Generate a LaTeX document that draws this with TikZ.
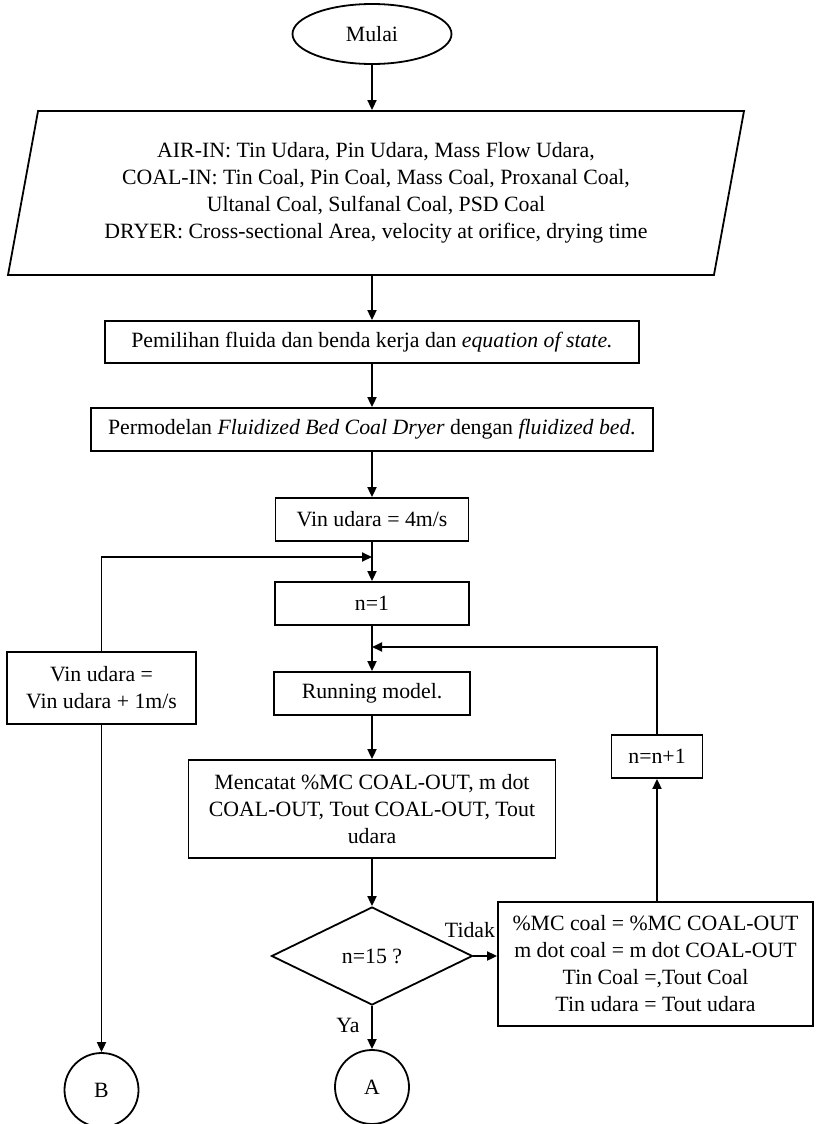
\documentclass[tikz,border=0pt]{standalone}
\usepackage{fontspec}
\setmainfont{Liberation Serif}
\usetikzlibrary{shapes.geometric,arrows.meta}

\begin{document}
\begin{tikzpicture}[x=0.5pt,y=-0.5pt,line width=0.9pt,font=\fontsize{10.9}{13.5}\selectfont,
	proc/.style={draw,rectangle,inner sep=0pt,align=center},
	io/.style={draw,trapezium,trapezium left angle=73.4,trapezium right angle=106.6,trapezium stretches body=true,inner sep=0pt,align=center},
	term/.style={draw,ellipse,inner sep=0pt},
	decision/.style={draw,diamond,aspect=2,inner sep=0pt},
	conn/.style={draw,circle,inner sep=0pt,minimum size=37pt},
	arr/.style={-{Triangle[length=5pt,width=4.5pt]}}]
	\useasboundingbox (0,0) rectangle (816,1124);
	\node[term,minimum width=79.5pt,minimum height=30pt] (start) at (372,34) {Mulai};
	\node[io,minimum width=368pt,minimum height=82pt] (input) at (376,193) {AIR-IN: Tin Udara, Pin Udara, Mass Flow Udara,\\COAL-IN: Tin Coal, Pin Coal, Mass Coal, Proxanal Coal,\\Ultanal Coal, Sulfanal Coal, PSD Coal\\DRYER: Cross-sectional Area, velocity at orifice, drying time};
	\node[proc,minimum width=267pt,minimum height=21pt] (select) at (372,342) {Pemilihan fluida dan benda kerja dan \textit{equation of state.}};
	\node[proc,minimum width=281pt,minimum height=21.5pt] (model) at (372,429.5) {Permodelan \textit{Fluidized Bed Coal Dryer} dengan \textit{fluidized bed.}};
	\node[proc,minimum width=96.5pt,minimum height=21.5pt] (vin) at (372,519.5) {Vin udara = 4m/s};
	\node[proc,minimum width=97pt,minimum height=21.5pt] (nset) at (372,603.5) {n=1};
	\node[proc,minimum width=98pt,minimum height=21.5pt] (run) at (372,693.5) {Running model.};
	\node[proc,minimum width=183.5pt,minimum height=49pt] (record) at (372,809) {Mencatat \%MC COAL-OUT, m dot\\COAL-OUT, Tout COAL-OUT, Tout\\udara};
	\node[decision,minimum width=100.5pt,minimum height=49pt] (check) at (372,956) {n=15 ?};
	\node[proc,minimum width=157.5pt,minimum height=62pt] (update) at (655.5,964) {\%MC coal = \%MC COAL-OUT\\m dot coal = m dot COAL-OUT\\Tin Coal =,Tout Coal\\Tin udara = Tout udara};
	\node[proc,minimum width=45.5pt,minimum height=21.5pt] (inc) at (657,756.5) {n=n+1};
	\node[proc,minimum width=94.5pt,minimum height=36pt] (vup) at (101.5,688) {Vin udara =\\Vin udara + 1m/s};
	\node[conn] (A) at (372,1087) {A};
	\node[conn] (B) at (101.5,1090) {B};
	\node (no) at (470,930) {Tidak};
	\node (yes) at (348,1025) {Ya};
	\coordinate (back1) at (372,557);
	\coordinate (back2) at (372,647);
	\draw[arr] (start) -- (start |- input.north);
	\draw[arr] (input.south -| select) -- (select);
	\draw[arr] (select) -- (model);
	\draw[arr] (model) -- (vin);
	\draw[arr] (vin) -- (nset);
	\draw[arr] (nset) -- (run);
	\draw[arr] (run) -- (record);
	\draw[arr] (record) -- (check);
	\draw[arr] (check) -- (A);
	\draw[arr] (check.east) -- (check.east -| update.west);
	\draw[arr] (inc |- update.north) -- (inc);
	\draw[arr] (inc) |- (back2);
	\draw[arr] (vup) |- (back1);
	\draw[arr] (vup) -- (B);
\end{tikzpicture}
\end{document}
